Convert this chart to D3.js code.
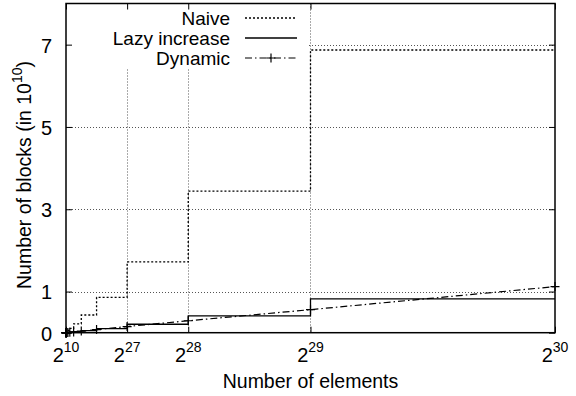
<!DOCTYPE html>
<html>
<head>
<meta charset="utf-8">
<script src="https://cdn.jsdelivr.net/npm/d3@7"></script>
<style>
  body { margin: 0; background: #fff; }
  svg { display: block; }
  text { font-family: "Liberation Sans", Arial, Helvetica, sans-serif; fill: #000; }
</style>
</head>
<body>
<svg id="chart" width="576" height="396"></svg>
<script>
// Element counts are powers of two: 2^10 ... 2^30
const exponents = [10, 11, 12, 13, 14, 15, 16, 17, 18, 19, 20, 21, 22, 23, 24, 25, 26, 27, 28, 29, 30];

// Number of blocks, in units of 10^10
const naive = [0.0000066, 0.000013, 0.000026, 0.000052, 0.0001, 0.00021, 0.00042, 0.00084, 0.0017, 0.0034,
               0.0067, 0.013, 0.027, 0.054, 0.107, 0.215, 0.43, 0.86, 1.72, 3.44, 6.87];
const lazy = [0.000001, 0.000002, 0.000003, 0.000006, 0.000012, 0.000025, 0.00005, 0.0001, 0.0002, 0.0004,
              0.0008, 0.0016, 0.0032, 0.0064, 0.013, 0.026, 0.051, 0.1, 0.205, 0.41, 0.82];
const dynamic = [0.000001, 0.000002, 0.000004, 0.000008, 0.000016, 0.00003, 0.00006, 0.0001, 0.0002, 0.0004,
                 0.0013, 0.0026, 0.005, 0.01, 0.02, 0.039, 0.076, 0.15, 0.29, 0.56, 1.12];

const xTickExps = [10, 27, 28, 29, 30];
const yTicks = [0, 1, 3, 5, 7];
const seriesNames = ["Naive", "Lazy increase", "Dynamic"];

const svg = d3.select("#chart");
const L = 66, R = 555, T = 3.5, B = 332.7;

const x = d3.scaleLinear().domain([Math.pow(2, 10), Math.pow(2, 30)]).range([L, R]);
const y = d3.scaleLinear().domain([0, 8]).range([B, T]);

const pts = vals => exponents.map((k, i) => [Math.pow(2, k), vals[i]]);

// Grid
const grid = svg.append("g").attr("stroke", "#555").attr("stroke-width", 1).attr("stroke-dasharray", "1,2");
grid.selectAll("line.h").data(yTicks.filter(v => v > 0)).join("line")
  .attr("x1", L).attr("x2", R).attr("y1", d => Math.round(y(d)) + 0.5).attr("y2", d => Math.round(y(d)) + 0.5);
grid.selectAll("line.v").data(xTickExps.slice(1, -1)).join("line")
  .attr("x1", d => Math.round(x(Math.pow(2, d))) + 0.5).attr("x2", d => Math.round(x(Math.pow(2, d))) + 0.5)
  .attr("y1", T).attr("y2", B);

// Key area is kept clear of grid lines
svg.append("rect").attr("x", L + 1).attr("y", T + 1).attr("width", 240).attr("height", 64).attr("fill", "#fff");

// Series
const stepLine = d3.line().x(d => x(d[0])).y(d => y(d[1])).curve(d3.curveStepBefore);
const plainLine = d3.line().x(d => x(d[0])).y(d => y(d[1]));

svg.append("path").datum(pts(naive)).attr("d", stepLine)
  .attr("fill", "none").attr("stroke", "#000").attr("stroke-width", 1.3).attr("stroke-dasharray", "2,2");
svg.append("path").datum(pts(lazy)).attr("d", stepLine)
  .attr("fill", "none").attr("stroke", "#000").attr("stroke-width", 1.3);
svg.append("path").datum(pts(dynamic)).attr("d", plainLine)
  .attr("fill", "none").attr("stroke", "#000").attr("stroke-width", 1.2).attr("stroke-dasharray", "7,3,1.5,3");

const plus = (g, cx, cy, s) => {
  g.append("path").attr("d", `M${cx - s},${cy}H${cx + s}M${cx},${cy - s}V${cy + s}`)
    .attr("stroke", "#000").attr("stroke-width", 1.2).attr("fill", "none");
};
const marks = svg.append("g");
pts(dynamic).forEach(p => plus(marks, x(p[0]), y(p[1]), 4.5));

// Axes (ticks pointing inward, mirrored on top and right)
const tickLen = 6;
svg.append("g").attr("transform", `translate(0,${B})`)
  .call(d3.axisBottom(x).tickValues(xTickExps.map(k => Math.pow(2, k))).tickSize(-tickLen).tickFormat(""))
  .call(g => g.select(".domain").remove());
svg.append("g").attr("transform", `translate(0,${T})`)
  .call(d3.axisTop(x).tickValues(xTickExps.map(k => Math.pow(2, k))).tickSize(-tickLen).tickFormat(""))
  .call(g => g.select(".domain").remove());
svg.append("g").attr("transform", `translate(${L},0)`)
  .call(d3.axisLeft(y).tickValues(yTicks).tickSize(-tickLen).tickPadding(14))
  .call(g => g.select(".domain").remove())
  .call(g => g.selectAll(".tick text").attr("font-size", 20).attr("dy", "0.37em")
    .attr("font-family", '"Liberation Sans", Arial, sans-serif').attr("fill", "#000"));
svg.append("g").attr("transform", `translate(${R},0)`)
  .call(d3.axisRight(y).tickValues(yTicks).tickSize(-tickLen).tickFormat(""))
  .call(g => g.select(".domain").remove());

svg.append("rect").attr("x", L).attr("y", T).attr("width", R - L).attr("height", B - T)
  .attr("fill", "none").attr("stroke", "#000").attr("stroke-width", 1.5);

// X tick labels with superscript exponents
const xl = svg.append("g");
xTickExps.forEach(k => {
  const t = xl.append("text").attr("x", x(Math.pow(2, k))).attr("y", 361.5)
    .attr("text-anchor", "middle").attr("font-size", 20);
  t.append("tspan").text("2");
  t.append("tspan").attr("font-size", 14).attr("dy", -10).text(k);
});

// Axis titles
svg.append("text").attr("x", (L + R) / 2).attr("y", 388).attr("text-anchor", "middle")
  .attr("font-size", 19.5).text("Number of elements");
const yt = svg.append("text").attr("transform", "translate(31,175) rotate(-90)")
  .attr("text-anchor", "middle").attr("font-size", 19.5);
yt.append("tspan").text("Number of blocks (in 10");
yt.append("tspan").attr("font-size", 14).attr("dy", -9).text("10");
yt.append("tspan").attr("dy", 9).text(")");

// Key
const key = svg.append("g");
const rowY = [18, 38, 58];
seriesNames.forEach((name, i) => {
  key.append("text").attr("x", 230).attr("y", rowY[i] + 7).attr("text-anchor", "end")
    .attr("font-size", 19).text(name);
});
key.append("line").attr("x1", 245).attr("x2", 297).attr("y1", rowY[0]).attr("y2", rowY[0])
  .attr("stroke", "#000").attr("stroke-width", 1.3).attr("stroke-dasharray", "2,2");
key.append("line").attr("x1", 245).attr("x2", 297).attr("y1", rowY[1]).attr("y2", rowY[1])
  .attr("stroke", "#000").attr("stroke-width", 1.3);
key.append("line").attr("x1", 245).attr("x2", 297).attr("y1", rowY[2]).attr("y2", rowY[2])
  .attr("stroke", "#000").attr("stroke-width", 1.2).attr("stroke-dasharray", "7,3,1.5,3");
plus(key, 271, rowY[2], 4.5);
</script>
</body>
</html>
